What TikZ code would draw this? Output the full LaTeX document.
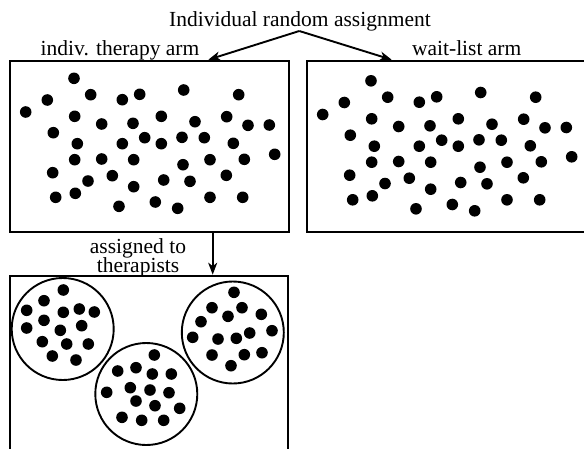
\documentclass[tikz,border=0pt]{standalone}
\usepackage{fontspec}
\setmainfont{Liberation Serif}
\usetikzlibrary{arrows.meta}
\begin{document}
\begin{tikzpicture}[x=1pt,y=-1pt,
  lbl/.style={font=\fontsize{21.5}{17}\selectfont, inner sep=0pt},
  armbox/.style={draw, line width=2.6pt, inner sep=0pt, minimum width=279pt, minimum height=171pt},
  grp/.style={draw, circle, line width=1.9pt, inner sep=0pt, minimum size=102pt},
  arr/.style={line width=1.9pt, -{Stealth[length=12pt,width=9pt,inset=3.5pt]}},
  dot/.style={fill=black}]
\useasboundingbox (0,0) rectangle (584,448);
\clip (0,0) rectangle (584,448);
\fill[white] (0,0) rectangle (584,448);

\def\armdots{74/78.3, 47.3/100, 25.7/112, 90.7/94.7, 122.3/99.7, 139.7/94.3, 183.7/90, 238.7/94.7,
 74.7/116.3, 53.3/132.7, 101.7/124, 133/123.3, 161.3/116.3, 195/121.7, 226.7/116.7, 248/125.3, 269.3/125,
 77.3/143.7, 122.3/143.7, 144.7/137.7, 161.3/143.7, 182/137.3, 204.3/137.7, 233.3/143.3, 274.7/154.3,
 74.7/159.7, 101.7/159, 133.7/159.7, 183/164.7, 210/159.7, 244.3/159.3,
 52.7/172.7, 88/181, 112.3/175.7, 133.7/186.7, 163.7/180, 190/181.3, 226.3/175.3,
 55.7/197.3, 75.3/193.3, 119/206.3, 155.3/202, 177.7/208.3, 210/197.3, 242.7/197.3}

% boxes
\node[armbox] (box1) at (149.5,146.5) {};
\node[armbox] (box2) at (446.5,146.5) {};
\node[draw, line width=2.6pt, inner sep=0pt, minimum width=278pt, minimum height=176pt] (box3) at (149,364) {};

% dots in arms
\foreach \x/\y in \armdots { \fill[dot] (\x,\y) circle[radius=5.8pt]; }
\begin{scope}[shift={(297,2.5)}]
\foreach \x/\y in \armdots { \fill[dot] (\x,\y) circle[radius=5.8pt]; }
\end{scope}

% therapist groups
\node[grp] (c1) at (62.7,329) {};
\node[grp] (c2) at (146.3,394) {};
\node[grp] (c3) at (232.8,332.5) {};

\foreach \x/\y in {63.3/290, 44/300.7, 26.7/310.3, 63.3/312.3, 79.3/309, 94.3/312, 44/320.3, 26.7/328,
 60.3/330.3, 81.7/325.7, 42.3/341.7, 66.7/344, 88.3/344, 52.3/356, 76/360,
 154.3/355, 117.7/371, 136/367.7, 152.3/374, 171.3/374, 106.7/392.3, 130.3/387.7, 150/390,
 169/392.7, 136/401, 155/405.7, 179.7/408.3, 122/417.3, 141.7/420.3, 163.7/420.3,
 234/292.3, 212/307.7, 242/307.7, 228/316.3, 261.3/314.3, 201/321.7, 272/330.7, 249.7/333,
 218/339, 236.3/338.3, 192.7/337.3, 212/355, 244.3/354.7, 262/352.7, 231/365.7}
 { \fill[dot] (\x,\y) circle[radius=5.8pt]; }

% labels
\node[lbl, anchor=base] (title) at (300,26.7) {Individual random assignment};
\node[lbl, anchor=base] (arm1) at (120,55) {indiv. therapy arm};
\node[lbl, anchor=base] (arm2) at (466.7,55) {wait-list arm};
\node[lbl, anchor=base, align=center] (assign) at (138,272) {assigned to\\[-2pt]therapists};

% connectors
\coordinate (apex) at (299.3,31);
\draw[arr] (apex) -- (208.3,0 |- box1.north);
\draw[arr] (apex) -- (391.7,0 |- box2.north);
\draw[arr] (212.7,0 |- box1.south) -- (212.7,0 |- box3.north);
\end{tikzpicture}
\end{document}
